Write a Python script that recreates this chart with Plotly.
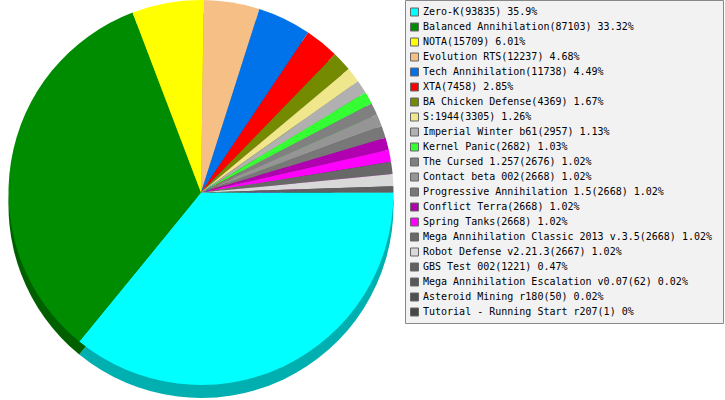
import plotly.graph_objects as go

# games and number of played games
games = ["Zero-K", "Balanced Annihilation", "NOTA", "Evolution RTS", "Tech Annihilation",
         "XTA", "BA Chicken Defense", "S:1944", "Imperial Winter b61", "Kernel Panic",
         "The Cursed 1.257", "Contact beta 002", "Progressive Annihilation 1.5", "Conflict Terra",
         "Spring Tanks", "Mega Annihilation Classic 2013 v.3.5", "Robot Defense v2.21.3",
         "GBS Test 002", "Mega Annihilation Escalation v0.07", "Asteroid Mining r180",
         "Tutorial - Running Start r207"]
counts = [93835, 87103, 15709, 12237, 11738, 7458, 4369, 3305, 2957, 2682,
          2676, 2668, 2668, 2668, 2668, 2668, 2667, 1221, 62, 50, 1]
percents = ["35.9", "33.32", "6.01", "4.68", "4.49", "2.85", "1.67", "1.26", "1.13", "1.03",
            "1.02", "1.02", "1.02", "1.02", "1.02", "1.02", "1.02", "0.47", "0.02", "0.02", "0"]
colors = ["#00ffff", "#008c00", "#ffff00", "#f5bf85", "#0073ea", "#ff0000", "#748a00",
          "#f0e68c", "#b0b0b0", "#33ff33", "#808080", "#959595", "#787878", "#b000b0",
          "#ff00ff", "#686868", "#d9d9d9", "#606060", "#585858", "#505050", "#484848"]


def darken(c, f=0.69):
    r, g, b = int(c[1:3], 16), int(c[3:5], 16), int(c[5:7], 16)
    return "#%02x%02x%02x" % (int(r * f), int(g * f), int(b * f))


labels = [f"{g}({n}) {p}%" for g, n, p in zip(games, counts, percents)]

W, H = 725, 400
pie_w = 402
top_y0 = 15  # px from bottom for the top face
depth = 13

fig = go.Figure()

# "3d" rim: same pie, darker, shifted down
fig.add_trace(go.Pie(values=counts, labels=games, sort=False, direction="clockwise", rotation=90,
                     marker=dict(colors=[darken(c) for c in colors], line=dict(width=0)),
                     textinfo="none", hoverinfo="skip", showlegend=False,
                     domain=dict(x=[0, pie_w / W], y=[(top_y0 - depth) / H, 1 - depth / H])))
fig.add_trace(go.Pie(values=counts, labels=games, sort=False, direction="clockwise", rotation=90,
                     marker=dict(colors=colors, line=dict(width=0)),
                     textinfo="none", hoverinfo="label+value+percent", showlegend=False,
                     domain=dict(x=[0, pie_w / W], y=[top_y0 / H, 1])))

# legend drawn as scatter on a pixel scale axis
rows = list(range(len(games)))
row_y = [12 + 15 * i for i in rows]
fig.add_trace(go.Scatter(x=[414.5] * len(rows), y=row_y, mode="markers",
                         marker=dict(symbol="square", size=8, color=colors,
                                     line=dict(color="#666666", width=1)),
                         hoverinfo="skip", showlegend=False))
fig.add_trace(go.Scatter(x=[423] * len(rows), y=row_y, mode="text", text=labels,
                         textposition="middle right",
                         textfont=dict(family="DejaVu Sans Mono", size=10, color="#000000"),
                         hoverinfo="skip", showlegend=False))

fig.update_layout(
    width=W, height=H,
    margin=dict(l=0, r=0, t=0, b=0),
    paper_bgcolor="white", plot_bgcolor="rgba(0,0,0,0)",
    xaxis=dict(range=[0, W], visible=False, fixedrange=True),
    yaxis=dict(range=[H, 0], visible=False, fixedrange=True),
    shapes=[dict(type="rect", xref="x", yref="y", x0=405.5, x1=723.5, y0=0.5, y1=323.5,
                 fillcolor="#f2f2f2", line=dict(color="#888888", width=1), layer="below")],
    font=dict(family="DejaVu Sans Mono", size=10),
)

# page body has a default 8px margin, drop it so the figure sits at the window corner
fig.write_html("out.html", config={"displayModeBar": False},
               post_script="document.body.style.margin='0';")
